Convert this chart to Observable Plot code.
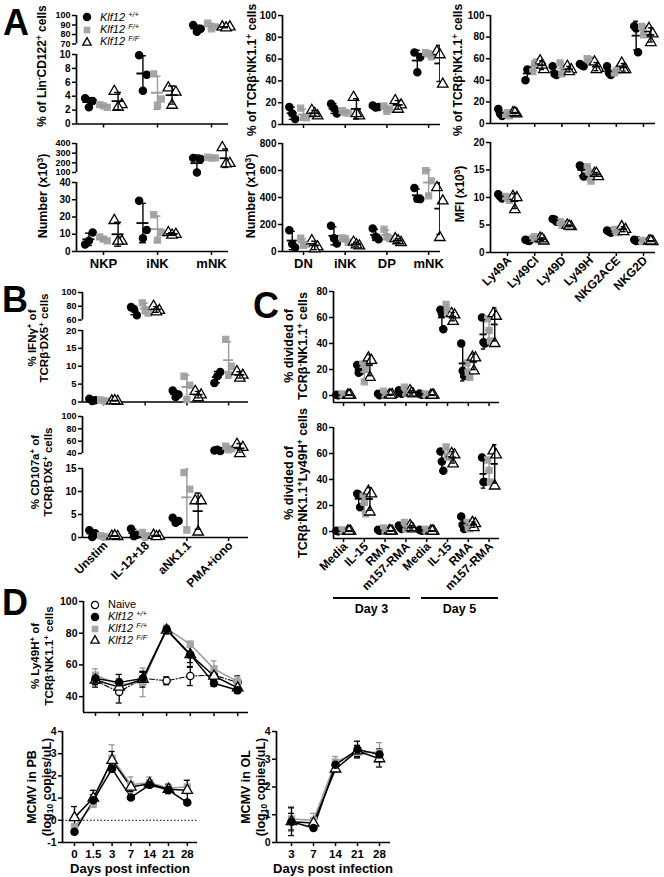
<!DOCTYPE html>
<html><head><meta charset="utf-8">
<script src="https://cdn.jsdelivr.net/npm/d3@7"></script>
<script src="https://cdn.jsdelivr.net/npm/@observablehq/plot@0.6"></script>
<style>
body{margin:0;background:#fff;}
#fig{position:relative;width:664px;height:877px;overflow:hidden;font-family:"Liberation Sans",Arial,sans-serif;font-weight:bold;color:#000;background:#fff;}
svg.seg [aria-label$="tick"] path, svg.seg .tick line{stroke-width:1.5px;}
.ylab{position:absolute;white-space:nowrap;text-align:center;transform:translate(-50%,-50%) rotate(-90deg);}
sup{font-size:0.68em;vertical-align:0.5em;line-height:0;}
sub{font-size:0.68em;vertical-align:-0.25em;line-height:0;}
.letter{position:absolute;font-size:36px;line-height:1;font-weight:bold;}
.leg{position:absolute;display:flex;align-items:center;font-weight:normal;font-size:12px;white-space:nowrap;line-height:1;}
.xl{position:absolute;font-size:13px;white-space:nowrap;transform:translateX(-50%);}
.day{position:absolute;border-top:2px solid #000;text-align:center;font-size:12.5px;padding-top:3px;}
</style>
</head><body><div id="fig"></div>
<script>
// ======================= DATA =======================
// genotype series order: Klf12 +/+, Klf12 F/+, Klf12 F/F (three mice each)
const a1Cats = ["NKP","iNK","mNK"];
const a1WT = [[3.7,3.3,2.4],[9.9,7.1,4.8],[90,86,83]];
const a1FP = [[2.8,2.4,2.6],[7.2,3.6,2.7],[92,88,86]];
const a1FF = [[4.7,2.8,2.4],[5.2,4.6,2.7],[88,88,87]];

const a2Cats = ["DN","iNK","DP","mNK"];
const a2WT = [[16,5,10],[19,10,15],[17.5,16,15.5],[66,62,48]];
const a2FP = [[15,6,6.5],[12.8,10.5,11],[17,14,12],[66,62,65]];
const a2FF = [[13,8,10],[25,8,10],[22,18,14],[67,37,64]];

const a3Cats = ["Ly49A","Ly49CI","Ly49D","Ly49H","NKG2ACE","NKG2D"];
const a3WT = [[13.5,7,9],[40,49,50],[53,45,46],[55,53,54],[53,45,47],[90,66,88]];
const a3FP = [[8.5,7,10],[48,57,55],[56,51,46],[60,57,59],[47,50,49],[90,88,82]];
const a3FF = [[10,9,10],[58,50,54],[53,50,48],[57,51,50],[56,50,50],[88,83,75]];

const a4Cats = ["NKP","iNK","mNK"];
const a4WT = [[4,11,6.2],[29.4,12.4,7.7],[250,240,100]];
const a4FP = [[8.5,6.2,7.2],[21.3,11,6.6],[258,252,250]];
const a4FF = [[18,6,6],[11,10,9.5],[358,195,190]];

const a5Cats = ["DN","iNK","DP","mNK"];
const a5WT = [[158,30,55],[190,59,99],[170,91,109],[470,388,390]];
const a5FP = [[98,55,45],[100,70,95],[165,95,110],[598,523,412]];
const a5FF = [[80,35,20],[70,42,50],[95,67,80],[474,375,104]];

const a6Cats = ["Ly49A","Ly49CI","Ly49D","Ly49H","NKG2ACE","NKG2D"];
const a6WT = [[10.6,9.8,10.2],[2.3,2.1,2.2],[6.1,5.6,6.0],[15.8,13.8,15.5],[4.0,3.6,3.8],[2.3,2.2,2.1]];
const a6FP = [[10.2,9.5,9.9],[2.6,2.3,2.9],[5.6,5.3,5.0],[15.6,13.0,14.6],[4.2,3.6,3.8],[2.2,2.1,2.0]];
const a6FF = [[10.2,10,7.8],[2.6,2.1,2.5],[5.0,4.7,4.8],[14.4,13.8,14.4],[4.7,4.2,3.8],[2.1,2.0,2.1]];

const bCats = ["Unstim","IL-12+18","aNK1.1","PMA+iono"];
const b1WT = [[0.9,0.5,0.3],[79,67,76],[3.2,2.1,1.4],[5.3,8.4,7.2]];
const b1FP = [[0.6,0.2,0.4],[85,70,75],[7.2,4.7,0.7],[17.5,10,7.7]];
const b1FF = [[0.3,0.2,0.4],[80,74,72],[3.0,2.0,1.2],[8.5,7.5,6.7]];
const b2WT = [[1.6,0.9,0.1],[1.9,0.6,0.3],[4.3,3.6,3.2],[45,44,46]];
const b2FP = [[0.4,0.1,0.2],[1.1,0.4,0.1],[14.1,10.5,1.6],[52,48,46]];
const b2FF = [[0.3,0.2,0.4],[0.5,0.3,0.2],[8.0,8.0,1.2],[55,50,40]];

const cCats = ["Media","IL-15","RMA","m157-RMA","Media","IL-15","RMA","m157-RMA"];
const cDays = ["Day 3","Day 5"];
const c1WT = [[0.5,0.3,0.2],[23.5,18.5,17.5],[1.3,0.5,0.2],[4,1.3,2],[1.5,0.5,0.8],[66,51,63],[40,15,19],[60,40,41]];
const c1FP = [[1.2,0.5,0.3],[24,20,10.5],[3.3,1.5,0.5],[6.4,3.5,2],[1.2,0.5,0.3],[70,65,63],[25,14,18],[59,42,50]];
const c1FF = [[0.2,0.3,0.2],[29,27,14],[0.5,0.8,0.3],[3.8,1.3,2],[0.2,0.3,0.2],[63,62,57],[29.5,29,19],[63,61,40]];
const c2WT = [[0.5,0.3,0.2],[29,18.6,28],[1.3,0.8,0.5],[4.6,2,3],[1.3,0.5,0.8],[61.5,46.7,53.8],[11.5,2,5],[57,38,38]];
const c2FP = [[1.2,0.5,0.2],[27,13.5,22.5],[2.8,1.2,0.5],[7,4,2],[1.8,0.8,0.5],[65,58,57],[7,2,3],[55,38,47]];
const c2FF = [[0.2,0.3,0.2],[31,29,15],[0.6,0.3,0.5],[4.6,2,3],[0.5,0.3,0.3],[60,59,52],[7,6,3],[62,59,35]];

const dDays = ["0","1.5","3","7","14","21","28"];
const d1Naive = [50,43,51.5,50,53,53.5,49];
const d1NaiveSd = [4,7,4,2.5,6,2,4];
const d1WT = [51.5,49,51.5,82.5,66.5,48.5,44];
const d1WTSd = [2,5,4,2,8,2,2];
const d1FP = [53.5,47.5,49,83,73,57.5,49.5];
const d1FPSd = [4,4,9,2,2,5,3];
const d1FF = [50.5,46,51,82,66.5,53,45.5];
const d1FFSd = [3,4,5,2.5,5,3,3];

const d2WT = [-0.52,0.9,2.32,1.03,1.6,1.36,0.8];
const d2WTSd = [0.1,0.25,0.15,0.08,0.1,0.1,0.1];
const d2FP = [-0.3,0.73,2.8,1.6,1.7,1.45,1.5];
const d2FPSd = [0.15,0.15,0.6,0.35,0.25,0.2,0.3];
const d2FF = [0.12,1.0,2.7,1.5,1.65,1.4,1.35];
const d2FFSd = [0.5,0.35,0.4,0.2,0.15,0.2,0.45];

const d3Days = ["3","7","14","21","28"];
const d3WT = [0.75,0.52,2.8,3.35,3.17];
const d3WTSd = [0.3,0.08,0.15,0.3,0.2];
const d3FP = [0.85,0.8,2.9,3.25,3.25];
const d3FPSd = [0.45,0.25,0.2,0.2,0.35];
const d3FF = [0.75,0.7,2.65,3.3,3.02];
const d3FFSd = [0.5,0.15,0.1,0.2,0.3];

// ======================= STYLE =======================
const FONT = '"Liberation Sans", Arial, sans-serif';
const GENO = ["wt","fp","ff"];
const SYM = {wt:"circle", fp:"square", ff:"triangle", nv:"circle"};
const FILL = {wt:"#000", fp:"#a6a6a6", ff:"#fff", nv:"#fff"};
const STROKE = {wt:"#000", fp:"#a6a6a6", ff:"#000", nv:"#000"};
const LINE = {wt:"#000", fp:"#9c9c9c", ff:"#000", nv:"#000"};
const R = {wt:3.6, fp:3.4, ff:3.9, nv:3.6};
const OFF = [-0.27, 0, 0.27];
const JIT = [-0.07, 0.07, 0];

const fig = document.getElementById("fig");

function tidy(series){
  const pts = [], stats = [];
  series.forEach((ser, gi) => {
    const g = GENO[gi];
    ser.forEach((vals, ci) => {
      vals.forEach((v, j) => pts.push({g, x: ci + OFF[gi] + JIT[j], y: v}));
      stats.push({g, x: ci + OFF[gi], m: d3.mean(vals), s: d3.deviation(vals)});
    });
  });
  return {pts, stats};
}

function dotMarks(t, lo, hi, meanPx, capPx){
  return (xDom, W) => {
    const u = (xDom[1]-xDom[0])/W, mh = meanPx*u, ch = capPx*u;
    const P = t.pts.filter(d => d.y >= lo && d.y <= hi);
    const S = t.stats.filter(d => d.m >= lo && d.m <= hi);
    const m = [];
    for (const g of GENO) {
      m.push(Plot.dot(P.filter(d => d.g === g), {x:"x", y:"y", symbol: SYM[g], fill: FILL[g], stroke: STROKE[g], strokeWidth: 1.3, r: R[g]}));
    }
    for (const g of GENO) {
      const Sg = S.filter(d => d.g === g);
      const st = {stroke: LINE[g], strokeWidth: 1.4, clip: true};
      m.push(Plot.ruleX(Sg, {x:"x", y1: d => d.m - d.s, y2: d => d.m + d.s, ...st}));
      m.push(Plot.ruleY(Sg, {y: d => d.m + d.s, x1: d => d.x - ch, x2: d => d.x + ch, ...st}));
      m.push(Plot.ruleY(Sg, {y: d => d.m - d.s, x1: d => d.x - ch, x2: d => d.x + ch, ...st}));
      m.push(Plot.ruleY(Sg, {y: "m", x1: d => d.x - mh, x2: d => d.x + mh, ...st, strokeWidth: 1.8}));
    }
    return m;
  };
}

function lineMarks(series, capPx){
  return (xDom, W) => {
    const u = (xDom[1]-xDom[0])/W, ch = capPx*u;
    const rows = series.map(s => ({s, data: s.y.map((v, i) => ({x: i, y: v, sd: s.sd[i]}))}));
    const m = [];
    for (const {s, data} of rows) m.push(Plot.line(data, {x:"x", y:"y", stroke: LINE[s.k], strokeWidth: s.k === "nv" ? 1.1 : 1.5, strokeDasharray: s.k === "nv" ? "5,2,1,2" : null}));
    for (const {s, data} of rows) {
      const st = {stroke: LINE[s.k], strokeWidth: 1.3};
      m.push(Plot.ruleX(data, {x:"x", y1: d => d.y - d.sd, y2: d => d.y + d.sd, ...st}));
      m.push(Plot.ruleY(data, {y: d => d.y + d.sd, x1: d => d.x - ch, x2: d => d.x + ch, ...st}));
      m.push(Plot.ruleY(data, {y: d => d.y - d.sd, x1: d => d.x - ch, x2: d => d.x + ch, ...st}));
    }
    for (const {s, data} of rows) m.push(Plot.dot(data, {x:"x", y:"y", symbol: SYM[s.k], fill: FILL[s.k], stroke: STROKE[s.k], strokeWidth: 1.3, r: R[s.k]}));
    return m;
  };
}

function segment(o){
  const mL = 40, mR = 14, mT = 8, mB = o.xAxis ? (o.mb || 64) : 6;
  const W = o.right - o.ax, H = o.yB - o.yT;
  const xDom = [(o.ax - o.t0)/o.s, (o.right - o.t0)/o.s];
  const labelMarks = o.xLabels ? [
    Plot.text(idx(o.xLabels.length), {x: d => d, text: d => o.xLabels[d], frameAnchor: "bottom",
      dy: o.rotate ? 6 : 7, dx: o.rotate ? 2 : 0, rotate: o.rotate || 0,
      textAnchor: o.rotate ? "end" : "middle", lineAnchor: o.rotate ? "middle" : "top",
      fontSize: o.xfs || 11, fontWeight: "bold", fill: "#000"})
  ] : [];
  const svg = Plot.plot({
    width: W + mL + mR, height: H + mT + mB,
    marginLeft: mL, marginRight: mR, marginTop: mT, marginBottom: mB,
    style: {fontFamily: FONT, fontSize: (o.fs || 10) + "px", fontWeight: "bold", background: "transparent", overflow: "visible", color: "#000"},
    x: {type: "linear", domain: xDom, axis: o.xAxis ? "bottom" : null, ticks: o.xTicks, tickFormat: () => "", tickSize: 4, tickPadding: 0, label: null},
    y: {domain: o.yDom, ticks: o.yTicks, tickFormat: d => String(d), tickSize: 4, tickPadding: 2, label: null},
    marks: [
      Plot.ruleX([xDom[0]], {strokeWidth: 1.7}),
      o.xAxis ? Plot.ruleY([o.yDom[0]], {strokeWidth: 1.7}) : null,
      ...(o.extra || []),
      ...o.marks(xDom, W),
      ...labelMarks
    ]
  });
  svg.classList.add("seg");
  svg.style.position = "absolute";
  svg.style.left = (o.ax - mL) + "px";
  svg.style.top = (o.yT - mT) + "px";
  fig.appendChild(svg);
}

const idx = n => d3.range(n);

// dot-plot panel with optional broken axis
function dotPanel(p){
  const t = tidy(p.series);
  const n = p.cats.length;
  if (p.upper) {
    segment({ax:p.ax, t0:p.t0, s:p.s, right:p.right, yT:p.upper.yT, yB:p.upper.yB, yDom:p.upper.dom, yTicks:p.upper.ticks, fs:p.upper.fs || 9, xAxis:false,
      marks: dotMarks(t, p.upper.dom[0], p.upper.dom[1], p.mp, p.cp)});
  }
  segment({ax:p.ax, t0:p.t0, s:p.s, right:p.right, yT:p.yT, yB:p.yB, yDom:p.dom, yTicks:p.ticks, fs:p.fs || 10, xAxis:true,
    xTicks: idx(n), xLabels: p.labels ? p.cats : null, rotate: p.rotate, xfs: p.xfs, mb: p.mb,
    marks: dotMarks(t, p.dom[0], p.dom[1], p.mp, p.cp)});
}

function ylab(cx, cy, lines, fs, lh){
  const d = document.createElement("div");
  d.className = "ylab";
  d.style.left = cx + "px"; d.style.top = cy + "px";
  d.style.fontSize = fs + "px"; d.style.lineHeight = (lh || fs*1.15) + "px";
  d.innerHTML = lines.join("<br>");
  fig.appendChild(d);
}
function letter(ch, x, y){
  const d = document.createElement("div"); d.className = "letter";
  d.style.left = x + "px"; d.style.top = y + "px"; d.textContent = ch; fig.appendChild(d);
}
function swatch(k){
  const c = 6;
  if (SYM[k] === "circle") return `<circle cx="${c}" cy="${c}" r="3.6" fill="${FILL[k]}" stroke="${STROKE[k]}" stroke-width="1.3"/>`;
  if (SYM[k] === "square") return `<rect x="${c-3.3}" y="${c-3.3}" width="6.6" height="6.6" fill="${FILL[k]}"/>`;
  return `<polygon points="${c},${c-4.4} ${c+4.2},${c+3.2} ${c-4.2},${c+3.2}" fill="#fff" stroke="#000" stroke-width="1.3"/>`;
}
function legend(x, y, rowH, items, fs){
  items.forEach((it, i) => {
    const d = document.createElement("div"); d.className = "leg";
    d.style.left = x + "px"; d.style.top = (y + i*rowH) + "px"; d.style.height = rowH + "px";
    if (fs) d.style.fontSize = fs + "px";
    d.innerHTML = `<svg width="12" height="12" style="overflow:visible">${swatch(it.k)}</svg><span style="margin-left:${it.gap||7}px">${it.html}</span>`;
    fig.appendChild(d);
  });
}
function text(cls, x, y, html){
  const d = document.createElement("div"); d.className = cls;
  d.style.left = x + "px"; d.style.top = y + "px"; d.innerHTML = html; fig.appendChild(d);
}

// ======================= PANEL A =======================
const klf = s => `<i>Klf12</i> <i><sup>${s}</sup></i>`;
dotPanel({cats:a1Cats, series:[a1WT,a1FP,a1FF], ax:76, t0:103, s:54, right:228, yT:53.5, yB:123, dom:[0,10], ticks:[0,2,4,6,8,10],
  upper:{yT:15, yB:43.5, dom:[70,100], ticks:[70,80,90,100]}, mp:6, cp:3.5, labels:false, mb:10});
dotPanel({cats:a2Cats, series:[a2WT,a2FP,a2FF], ax:282, t0:303, s:41.7, right:440, yT:15, yB:124, dom:[0,100], ticks:[0,20,40,60,80,100], mp:5, cp:3, labels:false, mb:10});
dotPanel({cats:a3Cats, series:[a3WT,a3FP,a3FF], ax:490, t0:507, s:27.2, right:655, yT:15, yB:123, dom:[0,100], ticks:[0,20,40,60,80,100], mp:4, cp:2.5, labels:false, mb:10});
dotPanel({cats:a4Cats, series:[a4WT,a4FP,a4FF], ax:76, t0:103, s:54, right:228, yT:182, yB:251, dom:[0,40], ticks:[0,10,20,30,40],
  upper:{yT:143, yB:172, dom:[100,400], ticks:[100,200,300,400]}, mp:6, cp:3.5, labels:true, xfs:13, mb:26});
dotPanel({cats:a5Cats, series:[a5WT,a5FP,a5FF], ax:282, t0:303, s:41.7, right:440, yT:143, yB:251, dom:[0,800], ticks:[0,200,400,600,800], mp:5, cp:3, labels:true, xfs:13, mb:26});
dotPanel({cats:a6Cats, series:[a6WT,a6FP,a6FF], ax:490, t0:507, s:27.2, right:655, yT:142, yB:252, dom:[0,20], ticks:[0,5,10,15,20], mp:4, cp:2.5, labels:true, rotate:-45, xfs:12, mb:62});

letter("A", 3, 5);
legend(81, 11, 12.4, [{k:"wt", html:klf("+/+")},{k:"fp", html:klf("F/+")},{k:"ff", html:klf("F/F")}], 11);
ylab(43, 66, ["% of Lin<sup>-</sup>CD122<sup>+</sup> cells"], 12);
ylab(253, 70, ["% of TCRβ<sup>-</sup>NK1.1<sup>+</sup> cells"], 12);
ylab(459, 70, ["% of TCRβ<sup>-</sup>NK1.1<sup>+</sup> cells"], 12);
ylab(43, 196, ["Number (x10<sup>3</sup>)"], 12.5);
ylab(251, 196, ["Number (x10<sup>3</sup>)"], 12.5);
ylab(461, 194, ["MFI (x10<sup>3</sup>)"], 12);

// ======================= PANEL B =======================
dotPanel({cats:bCats, series:[b1WT,b1FP,b1FF], ax:82, t0:103, s:41.7, right:248, yT:329.5, yB:401, dom:[0,20], ticks:[0,5,10,15,20],
  upper:{yT:292, yB:319.5, dom:[60,100], ticks:[60,80,100], fs:9}, mp:5, cp:3, labels:false, mb:10, fs:9.5});
dotPanel({cats:bCats, series:[b2WT,b2FP,b2FF], ax:82, t0:103, s:41.7, right:248, yT:468, yB:537, dom:[0,15], ticks:[0,5,10,15],
  upper:{yT:416, yB:453, dom:[40,100], ticks:[40,60,80,100], fs:9}, mp:5, cp:3, labels:true, rotate:-45, xfs:12, mb:62});
letter("B", 2, 282);
ylab(38, 338, ["% IFNγ<sup>+</sup> of", "TCRβ<sup>-</sup>DX5<sup>+</sup> cells"], 11.5, 11.5);
ylab(41, 472, ["% CD107a<sup>+</sup> of", "TCRβ<sup>-</sup>DX5<sup>+</sup> cells"], 11.5, 12.5);

// ======================= PANEL C =======================
dotPanel({cats:cCats, series:[c1WT,c1FP,c1FF], ax:333, t0:343, s:20.8, right:499, yT:291, yB:402, dom:[-5.4,80], ticks:[0,20,40,60,80], mp:3.5, cp:2.2, labels:false, mb:10});
dotPanel({cats:cCats, series:[c2WT,c2FP,c2FF], ax:333, t0:343, s:20.8, right:499, yT:427, yB:538, dom:[-5.4,80], ticks:[0,20,40,60,80], mp:3.5, cp:2.2, labels:true, rotate:-45, xfs:12, mb:62});
letter("C", 253, 288);
ylab(296, 346, ["% divided of", "TCRβ<sup>-</sup>NK1.1<sup>+</sup> cells"], 12.5, 14);
ylab(296, 483, ["% divided of", "TCRβ<sup>-</sup>NK1.1<sup>+</sup>Ly49H<sup>+</sup> cells"], 12.5, 14);
{
  const d3el = document.createElement("div"); d3el.className = "day";
  d3el.style.cssText += "left:333px;top:597px;width:77px;"; d3el.textContent = cDays[0]; fig.appendChild(d3el);
  const d5el = document.createElement("div"); d5el.className = "day";
  d5el.style.cssText += "left:421px;top:597px;width:77px;"; d5el.textContent = cDays[1]; fig.appendChild(d5el);
}

// ======================= PANEL D =======================
segment({ax:83, t0:95, s:23.7, right:248, yT:601, yB:712, yDom:[30,100], yTicks:[40,60,80,100], fs:10.5, xAxis:true,
  xTicks: idx(dDays.length), mb:10,
  marks: lineMarks([
    {k:"nv", y:d1Naive, sd:d1NaiveSd},
    {k:"fp", y:d1FP, sd:d1FPSd},
    {k:"ff", y:d1FF, sd:d1FFSd},
    {k:"wt", y:d1WT, sd:d1WTSd}], 3)});
letter("D", 2, 585);
legend(89, 599, 11.8, [{k:"nv", html:"Naive"},{k:"wt", html:klf("+/+")},{k:"fp", html:klf("F/+")},{k:"ff", html:klf("F/F")}], 11);
ylab(42, 656, ["% Ly49H<sup>+</sup> of", "TCRβ<sup>-</sup>NK1.1<sup>+</sup> cells"], 11.5, 14);

segment({ax:62, t0:74, s:18.8, right:197, yT:731, yB:842, yDom:[-1,4], yTicks:[-1,0,1,2,3,4], fs:10.5, xAxis:true,
  xTicks: idx(dDays.length), xLabels: dDays, xfs:11.5, mb:24,
  extra: [Plot.ruleY([0], {strokeDasharray:"1.5,2", strokeWidth:1})],
  marks: lineMarks([
    {k:"fp", y:d2FP, sd:d2FPSd},
    {k:"ff", y:d2FF, sd:d2FFSd},
    {k:"wt", y:d2WT, sd:d2WTSd}], 3)});
ylab(40, 787, ["MCMV in PB", "(log<sub>10</sub> copies/uL)"], 12.5, 15);
text("xl", 130, 861, "Days post infection");

segment({ax:276, t0:291, s:22, right:390, yT:731, yB:842, yDom:[0,4], yTicks:[0,1,2,3,4], fs:10.5, xAxis:true,
  xTicks: idx(d3Days.length), xLabels: d3Days, xfs:11.5, mb:24,
  marks: lineMarks([
    {k:"fp", y:d3FP, sd:d3FPSd},
    {k:"ff", y:d3FF, sd:d3FFSd},
    {k:"wt", y:d3WT, sd:d3WTSd}], 3)});
ylab(254, 787, ["MCMV in OL", "(log<sub>10</sub> copies/uL)"], 12.5, 15);
text("xl", 333, 861, "Days post infection");
</script>
</body></html>
